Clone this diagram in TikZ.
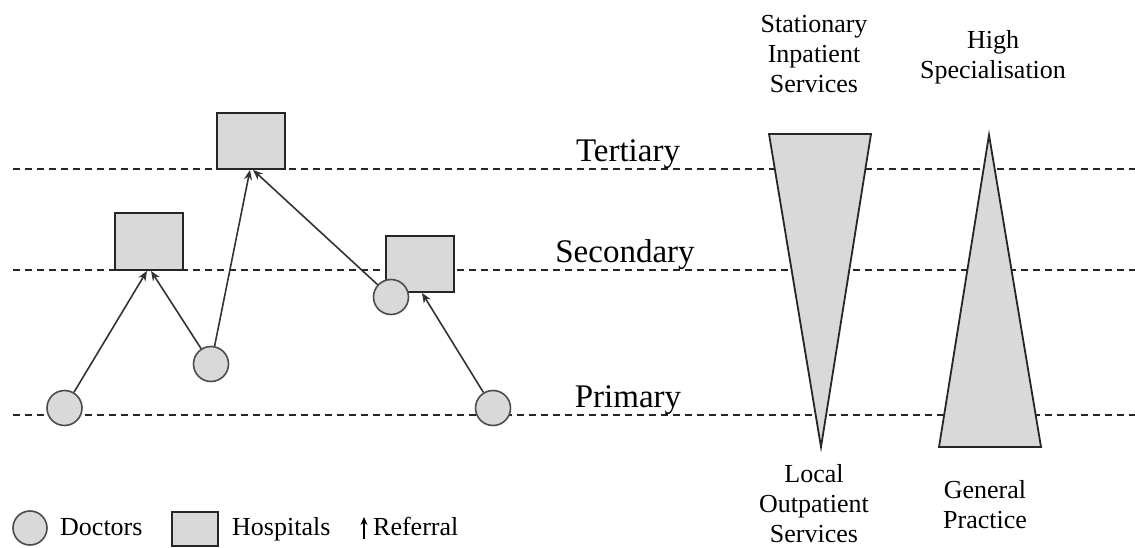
\documentclass[tikz,border=0pt]{standalone}
\usepackage{fontspec}
\setmainfont{Liberation Serif}
\usetikzlibrary{arrows.meta}
\begin{document}
\begin{tikzpicture}[x=1pt,y=-1pt,
  level/.style={dash pattern=on 7pt off 5pt, line width=1.5pt, black!85},
  doctor/.style={circle, draw=black!70, line width=1.6pt, fill=gray!30, minimum size=35pt, inner sep=0pt},
  hospital/.style={rectangle, draw=black!85, line width=1.8pt, fill=gray!30, minimum width=68pt, minimum height=56pt, inner sep=0pt},
  referral/.style={-{Stealth[length=10pt,width=8pt]}, line width=1.6pt, black!80},
  wedge/.style={draw=black!85, line width=1.8pt, fill=gray!30, line join=miter},
  levelname/.style={anchor=base, font=\fontsize{33}{38}\selectfont, inner sep=0pt},
  caption/.style={anchor=base, align=center, font=\fontsize{26}{30}\selectfont, inner sep=0pt},
  legendtext/.style={anchor=base west, font=\fontsize{26}{30}\selectfont, inner sep=0pt}]
\useasboundingbox (0,0) rectangle (1135,548);

% care levels
\draw[level] (13,169) -- (1135,169);
\draw[level] (13,270) -- (1135,270);
\draw[level] (13,415) -- (1135,415);
\node[levelname] (tert) at (628,162) {Tertiary};
\node[levelname] (sec) at (625,262) {Secondary};
\node[levelname] (prim) at (628,407) {Primary};

% service wedges (captions are placed by the baseline of their last line)
\draw[wedge] (769,134) -- (871,134) -- (821,447) -- cycle;
\draw[wedge] (989,135) -- (1041,447) -- (939,447) -- cycle;
\node[caption] (inpat) at (814,93) {Stationary\\Inpatient\\Services};
\node[caption] (spec) at (993,79) {High\\Specialisation};
\node[caption] (outpat) at (814,542) {Local\\Outpatient\\Services};
\node[caption] (gp) at (985,528) {General\\Practice};

% hospitals
\node[hospital] (h1) at (251,141) {};
\node[hospital, minimum height=57pt] (h2) at (149,241.5) {};
\node[hospital] (h3) at (420,264) {};

% doctors
\node[doctor] (d1) at (64.5,408) {};
\node[doctor] (d2) at (211,364) {};
\node[doctor] (d3) at (391,297) {};
\node[doctor] (d4) at (493,408) {};

% referrals
\draw[referral] (d1) -- ([xshift=-2pt]h2.south);
\draw[referral] (d2) -- ([xshift=2pt]h2.south);
\draw[referral] (d2) -- ([xshift=-1pt]h1.south);
\draw[referral] (d3) -- ([xshift=2pt]h1.south);
\draw[referral] (d4) -- ([xshift=2pt]h3.south);

% legend
\node[doctor, minimum size=34pt] (ld) at (30,528) {};
\node[legendtext] (ldt) at (60,535) {Doctors};
\node[hospital, minimum width=46pt, minimum height=34pt] (lh) at (195,529) {};
\node[legendtext] (lht) at (232,535) {Hospitals};
\coordinate (la0) at (364,539);
\coordinate (la1) at (364,517);
\draw[-{Stealth[length=8pt,width=7pt]}, line width=1.5pt] (la0) -- (la1);
\node[legendtext] (lrt) at (373,535) {Referral};
\end{tikzpicture}
\end{document}
